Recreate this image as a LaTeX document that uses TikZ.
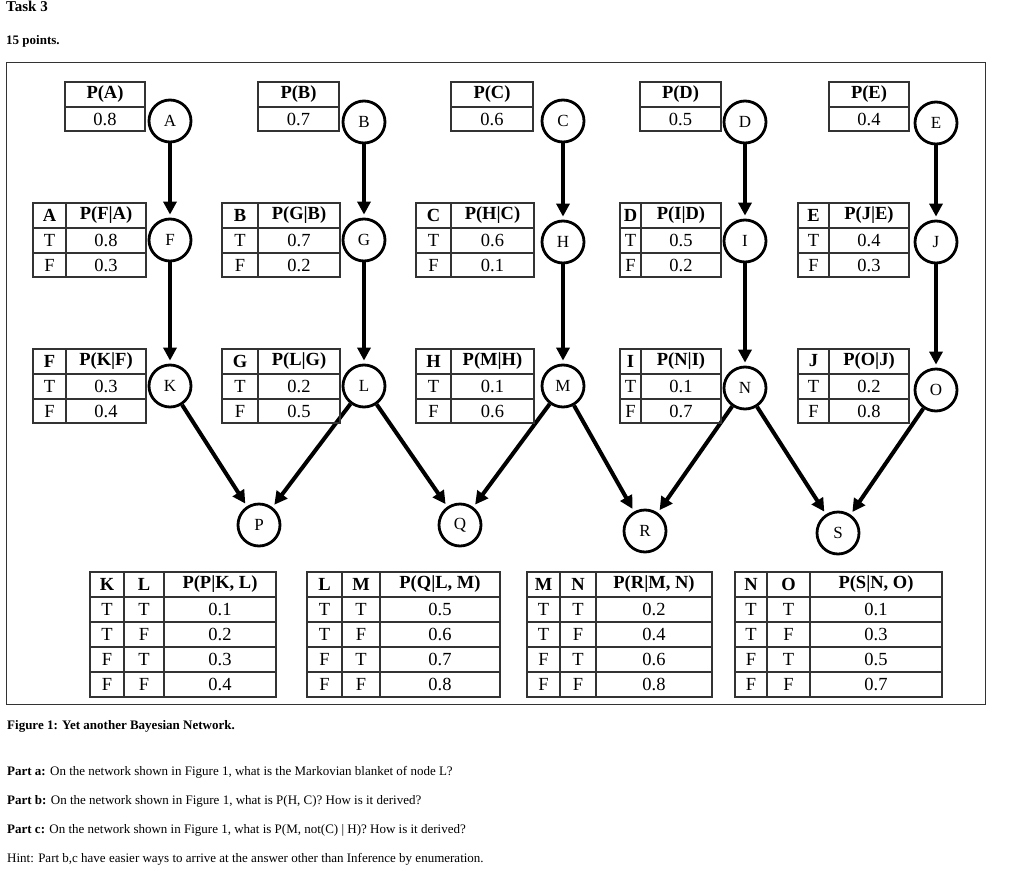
\documentclass[tikz,border=0pt]{standalone}
\usepackage{fontspec}
\setmainfont{Liberation Serif}
\usetikzlibrary{arrows.meta}
\newcommand\tf{\fontsize{18.5}{18.5}\selectfont}
% prior table: x0 x1 ytop head val
\newcommand\priortab[5]{%
  \draw[tb] (#1,#3) rectangle (#2,#3+49) (#1,#3+25) -- (#2,#3+25);
  \node[tt] at ({(#1+#2)/2},#3+12) {\textbf{#4}};
  \node[tt] at ({(#1+#2)/2},#3+37) {#5};}
% cpt 2 col: x0 xs x1 ytop parent head v1 v2
\newcommand\cpttab[8]{%
  \draw[tb] (#1,#4) rectangle (#3,#4+74) (#2,#4) -- (#2,#4+74)
    (#1,#4+25) -- (#3,#4+25) (#1,#4+50) -- (#3,#4+50);
  \node[tt] at ({(#1+#2)/2},#4+12) {\textbf{#5}};
  \node[tt] at ({(#2+#3)/2},#4+12) {\textbf{#6}};
  \node[tt] at ({(#1+#2)/2},#4+37) {T};
  \node[tt] at ({(#2+#3)/2},#4+37) {#7};
  \node[tt] at ({(#1+#2)/2},#4+62) {F};
  \node[tt] at ({(#2+#3)/2},#4+62) {#8};}
% 3 col: x0 xa xb x1 p1 p2 head v1..v4
\newcommand\bigtab[9]{%
  \draw[tb] (#1,572) rectangle (#4,697) (#2,572) -- (#2,697) (#3,572) -- (#3,697);
  \foreach \yy in {597,622,647,672} \draw[tb] (#1,\yy) -- (#4,\yy);
  \node[tt] at ({(#1+#2)/2},584) {\textbf{#5}};
  \node[tt] at ({(#2+#3)/2},584) {\textbf{#6}};
  \node[tt] at ({(#3+#4)/2},584) {\textbf{#7}};
  \foreach \a/\b/\yy in {T/T/609,T/F/634,F/T/659,F/F/684}{
    \node[tt] at ({(#1+#2)/2},\yy) {\a};
    \node[tt] at ({(#2+#3)/2},\yy) {\b};}
  \bigtabvals{#3}{#4}#8#9}
\newcommand\bigtabvals[6]{%
  \node[tt] at ({(#1+#2)/2},609) {#3};
  \node[tt] at ({(#1+#2)/2},634) {#4};
  \node[tt] at ({(#1+#2)/2},659) {#5};
  \node[tt] at ({(#1+#2)/2},684) {#6};}
\begin{document}
\begin{tikzpicture}[x=1pt,y=-1pt,
  tb/.style={draw=black!80,line width=1.3pt},
  tt/.style={inner sep=0pt,font=\tf},
  nd/.style={circle,draw,line width=2.8pt,minimum size=42pt,inner sep=0pt,font=\fontsize{17}{17}\selectfont},
  arr/.style={line width=4pt,-{Triangle[length=13pt,width=13pt]},shorten >=3pt}]
\useasboundingbox (0,0) rectangle (1024,872);
\draw[line width=1pt,black!80] (6,63) rectangle (985,704);
\node[anchor=west,inner sep=0pt,font=\fontsize{15}{15}\selectfont\bfseries] (t) at (6,6) {Task 3};
\node[anchor=west,inner sep=0pt,font=\fontsize{13}{13}\selectfont\bfseries] (pts) at (6,41) {15 points.};
% nodes
\node[nd] (A) at (170,121) {A};
\node[nd] (B) at (364,122) {B};
\node[nd] (C) at (563,121) {C};
\node[nd] (D) at (745,122) {D};
\node[nd] (E) at (936,123) {E};
\node[nd] (F) at (170,240) {F};
\node[nd] (G) at (364,240) {G};
\node[nd] (H) at (563,242) {H};
\node[nd] (I) at (745,241) {I};
\node[nd] (J) at (936,242) {J};
\node[nd] (K) at (170,386) {K};
\node[nd] (L) at (364,386) {L};
\node[nd] (M) at (563,386) {M};
\node[nd] (N) at (745,388) {N};
\node[nd] (O) at (936,390) {O};
\node[nd] (P) at (259,525) {P};
\node[nd] (Q) at (460,525) {Q};
\node[nd] (R) at (645,531) {R};
\node[nd] (S) at (838,533) {S};
\foreach \a/\b in {A/F,F/K,B/G,G/L,C/H,H/M,D/I,I/N,E/J,J/O,K/P,L/P,L/Q,M/Q,M/R,N/R,N/S,O/S}
  \draw[arr] (\a) -- (\b);
% priors
\priortab{65}{145}{82}{P(A)}{0.8}
\priortab{258}{339}{82}{P(B)}{0.7}
\priortab{451}{533}{82}{P(C)}{0.6}
\priortab{640}{721}{82}{P(D)}{0.5}
\priortab{829}{909}{82}{P(E)}{0.4}
\cpttab{33}{66}{146}{203}{A}{P(F|A)}{0.8}{0.3}
\cpttab{222}{258}{340}{203}{B}{P(G|B)}{0.7}{0.2}
\cpttab{416}{451}{534}{203}{C}{P(H|C)}{0.6}{0.1}
\cpttab{620}{641}{721}{203}{D}{P(I|D)}{0.5}{0.2}
\cpttab{798}{829}{909}{203}{E}{P(J|E)}{0.4}{0.3}
\cpttab{33}{66}{146}{349}{F}{P(K|F)}{0.3}{0.4}
\cpttab{222}{258}{340}{349}{G}{P(L|G)}{0.2}{0.5}
\cpttab{416}{451}{534}{349}{H}{P(M|H)}{0.1}{0.6}
\cpttab{620}{641}{721}{349}{I}{P(N|I)}{0.1}{0.7}
\cpttab{798}{829}{909}{349}{J}{P(O|J)}{0.2}{0.8}
\bigtab{90}{124}{164}{276}{K}{L}{P(P|K, L)}{{0.1}{0.2}}{{0.3}{0.4}}
\bigtab{307}{342}{380}{500}{L}{M}{P(Q|L, M)}{{0.5}{0.6}}{{0.7}{0.8}}
\bigtab{527}{560}{596}{712}{M}{N}{P(R|M, N)}{{0.2}{0.4}}{{0.6}{0.8}}
\bigtab{735}{767}{810}{942}{N}{O}{P(S|N, O)}{{0.1}{0.3}}{{0.5}{0.7}}
% texts
\begin{scope}[every node/.style={anchor=west,inner sep=0pt,font=\fontsize{13}{13}\selectfont}]
\node (cap) at (7,726) {\textbf{Figure 1: Yet another Bayesian Network.}};
\node (pa) at (7,772) {\textbf{Part a:} On the network shown in Figure 1, what is the Markovian blanket of node L?};
\node (pb) at (7,801) {\textbf{Part b:} On the network shown in Figure 1, what is P(H, C)? How is it derived?};
\node (pc) at (7,830) {\textbf{Part c:} On the network shown in Figure 1, what is P(M, not(C) | H)? How is it derived?};
\node (hint) at (7,859) {Hint: Part b,c have easier ways to arrive at the answer other than Inference by enumeration.};
\end{scope}
\end{tikzpicture}
\end{document}
